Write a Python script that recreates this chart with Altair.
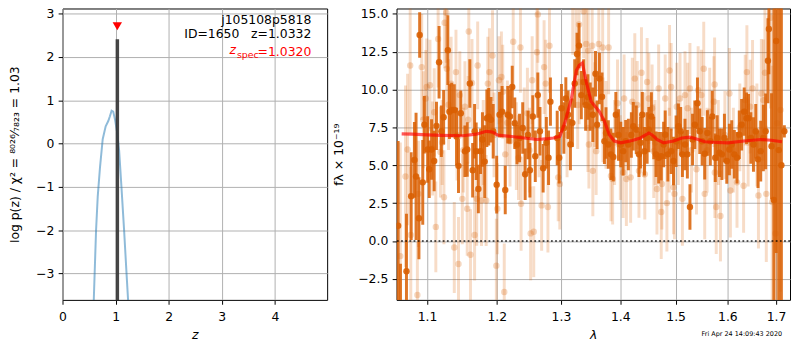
import altair as alt
import pandas as pd

ORANGE = "#d95f02"
FONT = "DejaVu Sans"
FS = 12.5

# ---------------- left panel: log p(z) ----------------
pz_z = [0.55, 0.589, 0.632, 0.663, 0.706, 0.757, 0.813, 0.862, 0.893, 0.925,
        0.955, 0.99, 1.03, 1.067, 1.11, 1.16, 1.205, 1.235, 1.27]
pz_logp = [-5.0, -3.61, -2.0, -1.23, -0.55, 0.10, 0.40, 0.52, 0.63, 0.76,
           0.74, 0.55, 0.25, -0.17, -1.0, -2.0, -2.98, -3.61, -4.5]
z_best = [1.0332]
z_best_top = [2.41]
z_best_bottom = [-3.61]
z_spec = [1.0320]
z_spec_marker_y = [2.71]

label_field = "j105108p5818"
label_id = "ID=1650\u00a0\u00a0\u00a0z=1.0332"
label_zspec_value = "=1.0320"
date_stamp = "Fri Apr 24 14:09:43 2020"

# ---------------- right panel: spectrum ----------------
dark_lam = [
    1.0611, 1.0642, 1.0722, 1.0785, 1.0829, 1.0851, 1.0890, 1.0900, 1.0942, 1.0964,
    1.1009, 1.1031, 1.1063, 1.1099, 1.1131, 1.1167, 1.1199, 1.1231, 1.1290, 1.1313,
    1.1344, 1.1381, 1.1413, 1.1441, 1.1474, 1.1533, 1.1566, 1.1604, 1.1645, 1.1673,
    1.1696, 1.1728, 1.1760, 1.1788, 1.1821, 1.1853, 1.1881, 1.1914, 1.1947, 1.1999,
    1.2042, 1.2080, 1.2128, 1.2166, 1.2200, 1.2234, 1.2273, 1.2307, 1.2346, 1.2395,
    1.2433, 1.2477, 1.2507, 1.2552, 1.2591, 1.2631, 1.2665, 1.2715, 1.2766, 1.2801,
    1.2831, 1.2940, 1.2972, 1.3009, 1.3048, 1.3080, 1.3117, 1.3155, 1.3187, 1.3226,
    1.3264, 1.3297, 1.3335, 1.3374, 1.3407, 1.3445, 1.3484, 1.3528, 1.3573, 1.3600,
    1.3640, 1.3684, 1.3725, 1.3752, 1.3792, 1.3837, 1.3878, 1.3922, 1.3968, 1.4008,
    1.4049, 1.4094, 1.4141, 1.4194, 1.4228, 1.4281, 1.4329, 1.4357, 1.4388, 1.4428,
    1.4476, 1.4507, 1.4553, 1.4596, 1.4638, 1.4686, 1.4733, 1.4777, 1.4806, 1.4855,
    1.4916, 1.4960, 1.5008, 1.5052, 1.5095, 1.5127, 1.5176, 1.5221, 1.5270, 1.5320,
    1.5363, 1.5414, 1.5458, 1.5504, 1.5554, 1.5606, 1.5663, 1.5701, 1.5760, 1.5798,
    1.5843, 1.5890, 1.5941, 1.5988, 1.6040, 1.6087, 1.6139, 1.6193, 1.6239, 1.6287,
    1.6339, 1.6387, 1.6428, 1.6475, 1.6529, 1.6576, 1.6623, 1.6679, 1.6734, 1.6782,
    1.6830, 1.6850, 1.6906, 1.6954, 1.7004, 1.7059, 1.7115, 1.7178]
dark_flux = [
    1.0, -4.5, -2.0, 2.96, 5.35, 4.26, 1.5, 13.6, 3.87, 7.67,
    6.04, 4.74, 6.04, 5.28, 7.6, 11.8, 7.24, 8.17, 12.6, 8.54,
    8.65, 8.65, 6.9, 4.96, 8.43, 5.93, 6.04, 10.4, 4.67, 7.24,
    5.93, 3.43, 5.93, 6.7, 5.24, 8.1, 8.2, 8.0, 7.24, 3.72,
    8.33, 8.54, 3.37, 8.33, 8.22, 10.17, 7.78, 6.37, 6.8, 7.46,
    4.41, 7.0, 4.67, 8.22, 5.6, 9.63, 7.24, 4.8, 6.48, 5.5,
    9.2, 6.8, 5.5, 8.76, 7.46, 9.41, 8.33, 6.37, 7.8, 10.4,
    12.35, 12.9, 9.63, 10.5, 8.98, 9.5, 8.87, 8.33, 11.04, 7.67,
    10.72, 9.52, 6.59, 7.13, 6.37, 5.72, 5.54, 8.33, 7.0, 6.37,
    5.93, 6.59, 6.37, 7.0, 7.57, 7.35, 5.72, 6.48, 8.33, 5.93,
    6.8, 7.35, 8.22, 6.8, 5.72, 5.5, 5.6, 6.37, 7.02, 5.72,
    5.93, 5.28, 6.59, 7.57, 7.24, 5.72, 6.37, 5.72, 2.24, 6.7,
    7.67, 9.09, 7.24, 6.59, 5.76, 7.13, 6.59, 8.22, 5.5, 6.8,
    5.83, 5.72, 6.8, 5.28, 6.04, 6.37, 5.72, 5.5, 7.02, 7.67,
    8.54, 8.11, 8.11, 6.8, 6.37, 7.24, 5.39, 5.93, 6.8, 7.24,
    11.9, 14.0, 6.26, 2.7, 13.2, 6.0, 5.0, 7.24]
dark_err = [
    5.6, 3.0, 3.8, 2.9, 2.5, 4.2, 2.7, 1.5, 2.8, 1.9,
    2.2, 1.9, 2.0, 2.0, 1.6, 2.4, 1.7, 1.8, 2.3, 1.8,
    1.8, 1.7, 1.9, 1.8, 1.5, 1.7, 1.8, 1.6, 1.8, 1.8,
    1.9, 1.6, 1.5, 1.8, 2.4, 1.9, 1.9, 1.5, 1.8, 1.9,
    1.5, 1.7, 1.6, 1.9, 1.8, 1.4, 1.7, 1.3, 1.6, 1.7,
    1.7, 1.6, 1.8, 1.4, 1.7, 1.5, 1.6, 1.6, 1.7, 1.8,
    1.6, 1.8, 1.7, 1.6, 1.7, 1.4, 1.6, 1.7, 1.6, 1.6,
    1.4, 1.5, 1.6, 1.5, 1.7, 1.5, 1.6, 1.8, 1.5, 1.6,
    1.7, 1.6, 1.5, 1.7, 1.6, 1.7, 1.6, 1.5, 1.7, 1.5,
    1.6, 1.4, 1.7, 1.5, 1.6, 1.6, 1.5, 1.7, 1.5, 1.6,
    1.7, 1.5, 1.6, 1.4, 1.5, 1.7, 1.6, 1.5, 1.6, 1.8,
    1.5, 1.6, 1.7, 1.5, 1.6, 1.5, 1.7, 1.6, 1.5, 1.7,
    1.6, 1.7, 1.5, 1.6, 1.7, 1.5, 1.6, 1.7, 1.6, 1.5,
    1.6, 1.7, 1.6, 1.5, 1.7, 1.6, 1.6, 1.7, 1.6, 1.7,
    1.6, 1.7, 1.6, 1.7, 1.8, 1.8, 1.9, 2.0, 2.2, 2.5,
    2.8, 3.0, 3.5, 14.0, 14.0, 14.0, 14.0, 0.4]

light_lam = [
    1.0640, 1.0709, 1.0737, 1.0772, 1.0780, 1.0869, 1.0883, 1.0928, 1.0950, 1.0983,
    1.0996, 1.1041, 1.1077, 1.1100, 1.1122, 1.1154, 1.1186, 1.1210, 1.1235, 1.1245,
    1.1268, 1.1276, 1.1300, 1.1336, 1.1381, 1.1405, 1.1420, 1.1441, 1.1460, 1.1496,
    1.1510, 1.1533, 1.1566, 1.1580, 1.1589, 1.1613, 1.1635, 1.1673, 1.1704, 1.1718,
    1.1774, 1.1800, 1.1843, 1.1867, 1.1891, 1.1937, 1.1960, 1.1994, 1.2009, 1.2033,
    1.2070, 1.2090, 1.2113, 1.2128, 1.2160, 1.2200, 1.2249, 1.2297, 1.2330, 1.2360,
    1.2370, 1.2419, 1.2468, 1.2500, 1.2518, 1.2542, 1.2567, 1.2617, 1.2631, 1.2650,
    1.2691, 1.2730, 1.2756, 1.2791, 1.2816, 1.2956, 1.2982, 1.3100, 1.3193, 1.3247,
    1.3275, 1.3297, 1.3300, 1.3374, 1.3418, 1.3445, 1.3450, 1.3462, 1.3517, 1.3528,
    1.3560, 1.3584, 1.3629, 1.3695, 1.3700, 1.3752, 1.3797, 1.3837, 1.3866, 1.3900,
    1.3951, 1.4000, 1.4049, 1.4066, 1.4106, 1.4181, 1.4211, 1.4255, 1.4298, 1.4329,
    1.4374, 1.4420, 1.4434, 1.4476, 1.4507, 1.4566, 1.4596, 1.4620, 1.4655, 1.4686,
    1.4733, 1.4745, 1.4806, 1.4837, 1.4880, 1.4886, 1.4916, 1.4960, 1.4978, 1.5021,
    1.5050, 1.5082, 1.5127, 1.5176, 1.5226, 1.5270, 1.5300, 1.5395, 1.5427, 1.5490,
    1.5535, 1.5554, 1.5600, 1.5651, 1.5733, 1.5747, 1.5752, 1.5779, 1.5820, 1.5862,
    1.5950, 1.6040, 1.6060, 1.6120, 1.6193, 1.6250, 1.6327, 1.6360, 1.6394, 1.6420,
    1.6461, 1.6510, 1.6600, 1.6632, 1.6693, 1.6734, 1.6767, 1.6796, 1.6885, 1.6920,
    1.6990, 1.7025, 1.7095]
light_flux = [
    -1.0, 4.26, 6.04, 11.59, 0.39, -3.57, 3.11, 11.48, 8.0, 9.41,
    10.17, 10.28, 6.11, 8.5, 0.93, 13.33, 5.87, 6.5, 2.89, 14.41,
    15.07, 11.37, 9.0, 10.39, -0.43, 11.15, 7.0, -1.52, 9.63, 2.78,
    6.0, 8.87, 2.13, 8.0, 13.83, -0.91, 10.43, 0.39, 2.78, 11.59,
    2.67, 6.5, 2.67, 10.39, 11.15, 12.24, 7.0, -1.63, 2.13, 10.61,
    10.83, 9.85, -3.37, 5.72, 7.8, 6.59, 13.15, 6.26, 5.5, 12.78,
    2.46, 7.24, 8.43, 6.0, 0.5, 10.61, 0.61, 12.46, 14.96, 7.0,
    2.35, 11.48, 10.39, 2.24, 12.89, 4.2, 3.76, 7.0, 15.5, 15.61,
    8.98, 14.3, 10.5, 15.17, 13.0, 7.46, 12.57, 6.37, 12.89, 4.63,
    9.0, 5.93, 13.0, 12.78, 8.0, 7.67, 12.78, 4.3, 4.09, 6.5,
    9.09, 5.5, 4.52, 9.41, 4.09, 4.2, 9.2, 10.72, 8.98, 4.63,
    11.11, 7.0, 4.41, 10.5, 9.41, 8.76, 5.93, 6.5, 3.43, 10.07,
    1.91, 3.76, 9.41, 2.5, 6.0, 11.26, 10.17, 3.54, 3.11, 8.87,
    6.5, 9.41, 2.78, 9.63, 8.76, 10.07, 6.0, 4.74, 9.96, 9.63,
    11.37, 3.11, 6.0, 8.54, 9.2, 10.33, 4.52, 2.24, 6.5, 1.65,
    7.0, 9.74, 3.33, 6.0, 3.87, 7.5, 3.65, 9.3, 11.15, 6.5,
    8.87, 10.07, 7.0, 3.0, 9.74, 9.3, 11.11, 3.11, 14.74, 2.57,
    0.5, 7.78, 8.65]
light_err = [
    7.5, 6.0, 5.0, 4.5, 4.5, 3.5, 3.5, 3.5, 3.2, 3.2,
    3.2, 3.0, 3.1, 2.9, 3.0, 3.2, 3.0, 2.8, 3.1, 3.0,
    3.3, 2.9, 3.0, 3.1, 3.0, 2.8, 3.0, 3.1, 2.9, 3.0,
    2.8, 3.0, 3.1, 2.9, 3.2, 3.0, 2.9, 3.0, 3.1, 2.9,
    3.0, 2.8, 3.0, 3.1, 2.9, 3.0, 2.8, 3.1, 3.0, 2.9,
    3.0, 3.1, 3.2, 2.9, 2.8, 3.0, 3.1, 2.9, 2.8, 3.0,
    3.1, 2.9, 3.0, 2.8, 3.1, 2.9, 3.0, 3.1, 3.2, 2.8,
    3.0, 3.1, 2.9, 3.0, 3.1, 2.9, 3.0, 2.8, 3.2, 3.1,
    2.9, 3.0, 2.8, 3.1, 3.0, 2.9, 3.0, 2.9, 3.1, 3.0,
    2.8, 2.9, 3.1, 3.0, 2.8, 2.9, 3.1, 3.0, 3.0, 2.8,
    2.9, 2.8, 3.0, 2.9, 3.1, 3.0, 2.9, 3.0, 2.9, 3.1,
    3.0, 2.8, 3.0, 2.9, 3.0, 2.9, 3.1, 2.8, 3.0, 2.9,
    3.1, 3.0, 2.9, 3.2, 2.8, 3.0, 2.9, 3.1, 3.0, 2.9,
    2.8, 3.0, 3.1, 2.9, 3.0, 3.0, 2.8, 3.0, 2.9, 3.0,
    3.1, 3.0, 2.8, 2.9, 3.0, 3.1, 3.0, 3.1, 2.8, 3.0,
    2.9, 3.0, 3.1, 2.8, 3.0, 2.9, 3.1, 3.0, 3.1, 2.9,
    3.1, 3.2, 3.4, 3.5, 3.6, 4.0, 4.2, 4.5, 6.0, 9.0,
    12.0, 12.0, 12.0]

model_lam = [1.0658, 1.08, 1.10, 1.12, 1.15, 1.17, 1.1843, 1.1937, 1.2009, 1.2224,
             1.2419, 1.2617, 1.2800, 1.2877, 1.2982, 1.3064, 1.3171, 1.3253, 1.3300,
             1.3352, 1.3418, 1.3501, 1.3640, 1.3725, 1.3809, 1.3895, 1.4008, 1.4209,
             1.4357, 1.4507, 1.4566, 1.4655, 1.4777, 1.4960, 1.5116, 1.5270, 1.5427,
             1.5554, 1.5712, 1.6008, 1.6339, 1.6679, 1.6900, 1.7128]
model_flux = [7.07, 7.05, 7.0, 6.97, 6.95, 7.05, 7.24, 7.2, 7.0, 6.9,
              6.8, 6.7, 6.76, 6.8, 6.9, 7.8, 9.4, 11.26, 11.6,
              11.75, 10.5, 9.2, 8.54, 7.9, 7.02, 6.6, 6.48, 6.63,
              6.8, 7.13, 7.0, 6.7, 6.48, 6.6, 6.8, 6.85, 6.7,
              6.55, 6.52, 6.48, 6.6, 6.7, 6.65, 6.55]
zero_level = [0.0]

# ---------------- data frames ----------------
df_pz = pd.DataFrame({"z": pz_z, "logp": pz_logp})
df_zl = pd.DataFrame({"z": z_best, "logp": z_best_top, "logp2": z_best_bottom})
df_zs = pd.DataFrame({"z": z_spec, "logp": z_spec_marker_y})
df_one = pd.DataFrame({"a": [0]})

df_dark = pd.DataFrame({"lam": dark_lam, "f": dark_flux, "e": dark_err})
df_dark["lo"] = df_dark["f"] - df_dark["e"]
df_dark["hi"] = df_dark["f"] + df_dark["e"]
df_light = pd.DataFrame({"lam": light_lam, "f": light_flux, "e": light_err})
df_light["lo"] = df_light["f"] - df_light["e"]
df_light["hi"] = df_light["f"] + df_light["e"]
df_model = pd.DataFrame({"lam": model_lam, "f": model_flux})
df_zero = pd.DataFrame({"f": zero_level})

# ---------------- encodings ----------------
LW, LH = 267, 294
RW, RH = 397, 294


def lx():
    return alt.X("z:Q", scale=alt.Scale(domain=[0, 4.985], nice=False, zero=False),
                 axis=alt.Axis(values=[0, 1, 2, 3, 4], format="d", title="z",
                               titleFontStyle="italic", titlePadding=6, labelPadding=6,
                               labelFlush=False))


def ly(field="logp"):
    return alt.Y(f"{field}:Q", scale=alt.Scale(domain=[-3.61, 3.12], nice=False, zero=False),
                 axis=alt.Axis(values=[-3, -2, -1, 0, 1, 2, 3], format="d",
                               title="log p(z) / χ² = ⁸⁰²⁶⁄₇₈₂₃ = 1.03", titlePadding=14))


def rx():
    return alt.X("lam:Q", scale=alt.Scale(type="log", domain=[1.059, 1.730], nice=False),
                 axis=alt.Axis(values=[1.1, 1.2, 1.3, 1.4, 1.5, 1.6, 1.7], format=".1f",
                               title="λ", titleFontStyle="italic", titlePadding=6,
                               labelPadding=6, labelFlush=False))


def ry(field):
    return alt.Y(f"{field}:Q", scale=alt.Scale(domain=[-3.89, 15.35], nice=False, zero=False),
                 axis=alt.Axis(values=[-2.5, 0, 2.5, 5, 7.5, 10, 12.5, 15], format=".1f",
                               title="fλ × 10⁻¹⁹", titlePadding=12))


# ---------------- left panel ----------------
curve = alt.Chart(df_pz).mark_line(clip=True, color="#1f77b4", opacity=0.5, strokeWidth=2).encode(
    x=lx(), y=ly())
zline = alt.Chart(df_zl).mark_rule(clip=True, color="#333333", strokeWidth=3.5, opacity=0.9).encode(
    x=lx(), y=ly(), y2=alt.Y2("logp2:Q"))
tri = alt.Chart(df_zs).mark_point(shape="triangle-down", filled=True, color="red", size=90,
                                  opacity=1).encode(x=lx(), y=ly())


def txt(text, x, y, color="black", size=FS, style="normal"):
    return alt.Chart(df_one).mark_text(text=text, align="right", baseline="middle", font=FONT,
                                       fontSize=size, color=color, fontStyle=style).encode(
        x=alt.value(x), y=alt.value(y))


t1 = txt(label_field, 251, 11.5)
t2 = txt(label_id, 251, 25.5)
t3 = txt(label_zspec_value, 251, 43.5, color="red")
t4 = txt("spec", 198, 47, color="red", size=9.5)
t5 = txt("z", 175, 42, color="red", style="italic")

left = alt.layer(curve, zline, tri, t1, t2, t3, t4, t5).properties(width=LW, height=LH)

# ---------------- right panel ----------------
light_bars = alt.Chart(df_light).mark_rule(clip=True, color=ORANGE, opacity=0.22, strokeWidth=3).encode(
    x=rx(), y=ry("lo"), y2=alt.Y2("hi:Q"))
light_pts = alt.Chart(df_light).mark_circle(clip=True, color=ORANGE, opacity=0.25, size=42).encode(
    x=rx(), y=ry("f"))
dark_bars = alt.Chart(df_dark).mark_rule(clip=True, color=ORANGE, opacity=0.85, strokeWidth=3).encode(
    x=rx(), y=ry("lo"), y2=alt.Y2("hi:Q"))
dark_pts = alt.Chart(df_dark).mark_circle(clip=True, color=ORANGE, opacity=0.9, size=42).encode(
    x=rx(), y=ry("f"))
zero = alt.Chart(df_zero).mark_rule(color="black", strokeWidth=1.6, strokeDash=[1.8, 2.4],
                                    opacity=0.85).encode(y=ry("f"))
model = alt.Chart(df_model).mark_line(clip=True, color="red", strokeWidth=3.2, opacity=0.65).encode(
    x=rx(), y=ry("f"))
stamp = alt.Chart(df_one).mark_text(text=date_stamp, align="right", baseline="middle", font=FONT,
                                    fontSize=6.5, color="black").encode(
    x=alt.value(389), y=alt.value(328))

right = alt.layer(light_bars, light_pts, dark_bars, dark_pts, zero, model, stamp).properties(
    width=RW, height=RH)

chart = alt.hconcat(
    left, right, spacing=4, background="white",
    padding={"top": -3, "left": 0, "right": 0, "bottom": 0}
).configure_view(
    stroke="black", strokeWidth=1
).configure_axis(
    labelFont=FONT, labelFontSize=FS, titleFont=FONT, titleFontSize=FS,
    titleFontWeight="normal", labelColor="black", titleColor="black",
    tickColor="black", tickSize=4.4, tickWidth=1, labelPadding=4.4,
    domain=False, gridColor="#b0b0b0", gridWidth=1, gridOpacity=1
)

chart.save("out.html", embed_options={"renderer": "svg", "actions": False})
